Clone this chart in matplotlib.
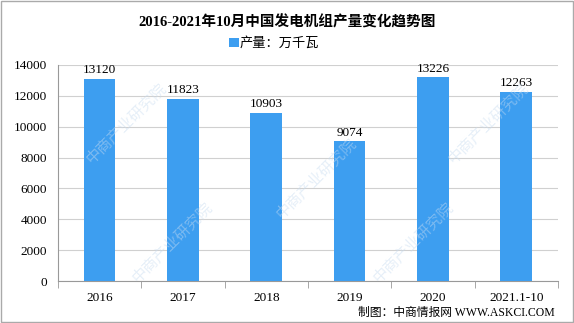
import matplotlib.pyplot as plt
from matplotlib.patches import Rectangle

plt.rcParams['font.family'] = ['Liberation Serif', 'Noto Sans CJK SC', 'DejaVu Sans']

years = ['2016', '2017', '2018', '2019', '2020', '2021.1-10']
output = [13120, 11823, 10903, 9074, 13226, 12263]
yticks = [0, 2000, 4000, 6000, 8000, 10000, 12000, 14000]

fig = plt.figure(figsize=(5.74, 3.23), dpi=100)
ax = fig.add_axes([0.101, 0.130, 0.871, 0.669])

# faint watermarks (kept inside the picture)
for (wx, wy) in [(0.22, 0.62), (0.55, 0.45), (0.85, 0.62), (0.3, 0.25), (0.72, 0.25)]:
    fig.text(wx, wy, '中商产业研究院', rotation=45, fontsize=11, color='#c8dcf0',
             alpha=0.45, ha='center', va='center', family=['Noto Sans CJK SC'], zorder=0)

x = range(len(years))
bars = ax.bar(x, output, width=0.38, color='#3d9ef0', label='产量：万千瓦', zorder=3)
for xi, v in zip(x, output):
    ax.text(xi, v + 150, str(v), ha='center', va='bottom', fontsize=9.5)

ax.set_xlim(-0.5, len(years) - 0.5)
ax.set_ylim(0, 14000)
ax.set_yticks(yticks)
ax.tick_params(axis='y', length=0, labelsize=9.5, pad=8)
ax.set_xticks(list(x))
ax.set_xticklabels(years, fontsize=9.5)
ax.set_xticks([i - 0.5 for i in range(len(years) + 1)], minor=True)
ax.tick_params(axis='x', which='major', length=0, pad=8)
ax.tick_params(axis='x', which='minor', length=5, color='#999999')
ax.grid(axis='y', color='#d0d0d0', linewidth=0.8, zorder=0)
for s in ['top', 'right']:
    ax.spines[s].set_visible(False)
ax.spines['left'].set_color('#999999')
ax.spines['bottom'].set_color('#999999')
ax.patch.set_alpha(0)

fig.text(0.5, 0.93, '2016-2021年10月中国发电机组产量变化趋势图', ha='center', va='center',
         fontsize=10.5, fontweight='bold')
fig.legend(handles=[bars], loc='center', bbox_to_anchor=(0.478, 0.865), frameon=False,
           fontsize=9.5, handlelength=0.7, handleheight=0.7, handletextpad=0.1)
fig.text(0.967, 0.031, '制图：中商情报网 WWW.ASKCI.COM', ha='right', va='center', fontsize=8.5)

fig.patches.append(Rectangle((0.001, 0.002), 0.997, 0.995, transform=fig.transFigure,
                             fill=False, edgecolor='#aaaaaa', linewidth=1))
fig.savefig('out.png', dpi=100)
